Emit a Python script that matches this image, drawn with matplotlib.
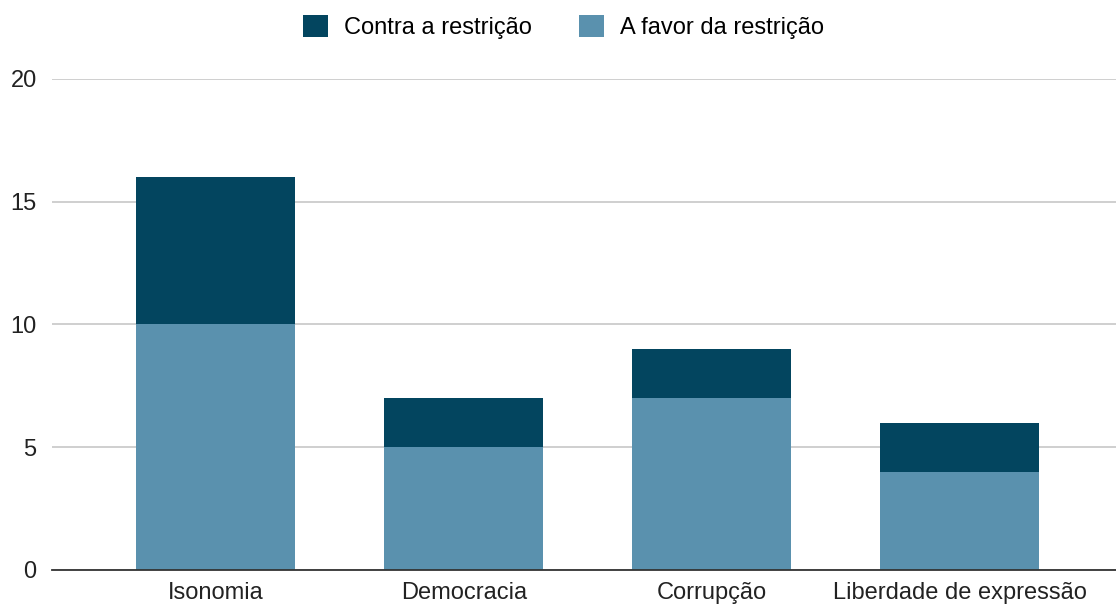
import matplotlib.pyplot as plt

plt.rcParams['font.family'] = ['Liberation Sans', 'DejaVu Sans']

categorias = ["Isonomia", "Democracia", "Corrupção", "Liberdade de expressão"]
a_favor = [10, 5, 7, 4]
contra = [6, 2, 2, 2]

cor_contra = "#03455f"
cor_favor = "#5a91ae"

fig = plt.figure(figsize=(11.16, 6.07), dpi=100)
ax = fig.add_axes([0.0466, 0.061, 0.9534, 0.809])

x = range(len(categorias))
ax.bar(x, a_favor, width=0.643, color=cor_favor, label="A favor da restrição", zorder=2)
ax.bar(x, contra, width=0.643, bottom=a_favor, color=cor_contra,
       label="Contra a restrição", zorder=2)

ax.set_ylim(0, 20)
ax.set_xlim(-0.66, 3.63)
ax.set_yticks([0, 5, 10, 15, 20])
ax.set_xticks(list(x))
ax.set_xticklabels(categorias)
ax.tick_params(axis='both', length=0, labelsize=17, colors="#222222")
ax.tick_params(axis='y', pad=11)
ax.tick_params(axis='x', pad=9)
ax.grid(axis='y', color="#cccccc", linewidth=1.3, zorder=0)
for s in ["top", "right", "left"]:
    ax.spines[s].set_visible(False)
ax.spines["bottom"].set_color("#333333")
ax.spines["bottom"].set_linewidth(1.3)
ax.spines["bottom"].set_zorder(3)

h, l = ax.get_legend_handles_labels()
fig.legend(h[::-1], l[::-1], loc="center", bbox_to_anchor=(0.505, 0.955), ncol=2,
           frameon=False, fontsize=17, handlelength=1.05, handleheight=1.05,
           columnspacing=2.0, handletextpad=0.7)

fig.savefig("out.png", dpi=100)
